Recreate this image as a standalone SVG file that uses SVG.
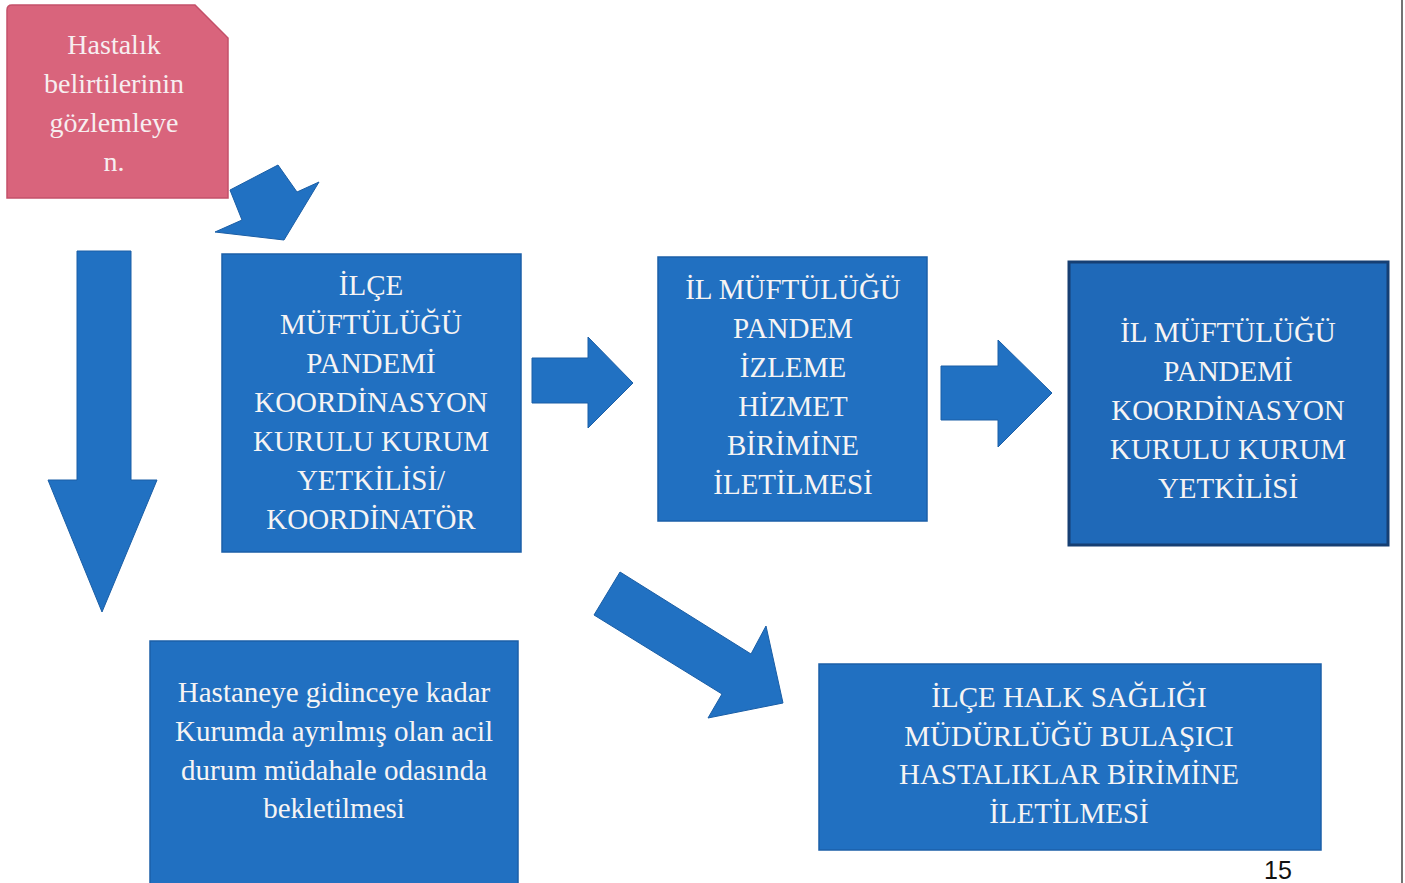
<svg xmlns="http://www.w3.org/2000/svg" width="1405" height="883" viewBox="0 0 1405 883">
<style>
.box{fill:#2170c1;stroke:#1b5fa8;stroke-width:1.5}
.box3{fill:#1f69b8;stroke:#163f73;stroke-width:3}
.pink{fill:#d9647c;stroke:#c45069;stroke-width:1.5}
.arr{fill:#2171c2;stroke:#1a5ea6;stroke-width:1}
.t{font-family:"Liberation Serif","Times New Roman",serif;font-size:29px;fill:#f6f4f4;text-anchor:middle}
.tp{font-family:"Liberation Serif","Times New Roman",serif;font-size:28px;fill:#f7eef0;text-anchor:middle}
.pg{font-family:"Liberation Sans",Arial,sans-serif;font-size:25px;fill:#111;text-anchor:middle}
</style>
<rect x="0" y="0" width="1405" height="883" fill="#ffffff"/>
<line x1="1402" y1="0" x2="1402" y2="883" stroke="#444" stroke-width="1.5"/>

<g id="n-pink">
<path class="pink" d="M12,5 L195,5 L228,38 L228,198 L7,198 L7,10 Q7,5 12,5 Z"/>
<text class="tp" x="114" y="54">Hastalık</text>
<text class="tp" x="114" y="93">belirtilerinin</text>
<text class="tp" x="114" y="132">gözlemleye</text>
<text class="tp" x="114" y="171">n.</text>
</g>

<g id="n-ilce">
<rect class="box" x="222" y="254" width="299" height="298"/>
<text class="t" x="371" y="295">İLÇE</text>
<text class="t" x="371" y="334">MÜFTÜLÜĞÜ</text>
<text class="t" x="371" y="373">PANDEMİ</text>
<text class="t" x="371" y="412">KOORDİNASYON</text>
<text class="t" x="371" y="451">KURULU KURUM</text>
<text class="t" x="371" y="490">YETKİLİSİ/</text>
<text class="t" x="371" y="529">KOORDİNATÖR</text>
</g>

<g id="n-il-izleme">
<rect class="box" x="658" y="257" width="269" height="264"/>
<text class="t" x="793" y="299">İL MÜFTÜLÜĞÜ</text>
<text class="t" x="793" y="338">PANDEM</text>
<text class="t" x="793" y="377">İZLEME</text>
<text class="t" x="793" y="416">HİZMET</text>
<text class="t" x="793" y="455">BİRİMİNE</text>
<text class="t" x="793" y="494">İLETİLMESİ</text>
</g>

<g id="n-il-kurul">
<rect class="box3" x="1069" y="262" width="319" height="283"/>
<text class="t" x="1228" y="342">İL MÜFTÜLÜĞÜ</text>
<text class="t" x="1228" y="381">PANDEMİ</text>
<text class="t" x="1228" y="420">KOORDİNASYON</text>
<text class="t" x="1228" y="459">KURULU KURUM</text>
<text class="t" x="1228" y="498">YETKİLİSİ</text>
</g>

<g id="n-hastane">
<rect class="box" x="150" y="641" width="368" height="250"/>
<text class="t" x="334" y="702">Hastaneye gidinceye kadar</text>
<text class="t" x="334" y="741">Kurumda ayrılmış olan acil</text>
<text class="t" x="334" y="780">durum müdahale odasında</text>
<text class="t" x="334" y="818">bekletilmesi</text>
</g>

<g id="n-halk">
<rect class="box" x="819" y="664" width="502" height="186"/>
<text class="t" x="1069" y="707">İLÇE HALK SAĞLIĞI</text>
<text class="t" x="1069" y="746">MÜDÜRLÜĞÜ BULAŞICI</text>
<text class="t" x="1069" y="784">HASTALIKLAR BİRİMİNE</text>
<text class="t" x="1069" y="823">İLETİLMESİ</text>
</g>

<g id="connectors">
<polygon class="arr" points="230,190 278,165 297,192 319,182 284,240 215,232 242,220"/>
<polygon class="arr" points="77,251 131,251 131,480 157,480 102,612 48,480 77,480"/>
<polygon class="arr" points="532,358 588,358 588,337 633,383 588,428 588,403 532,403"/>
<polygon class="arr" points="941,366 998,366 998,340 1052,393 998,447 998,420 941,420"/>
<polygon class="arr" points="620,572 751,654 766,626 783,703 708,718 722,694 594,615"/>
</g>

<text class="pg" x="1278" y="879">15</text>
</svg>
